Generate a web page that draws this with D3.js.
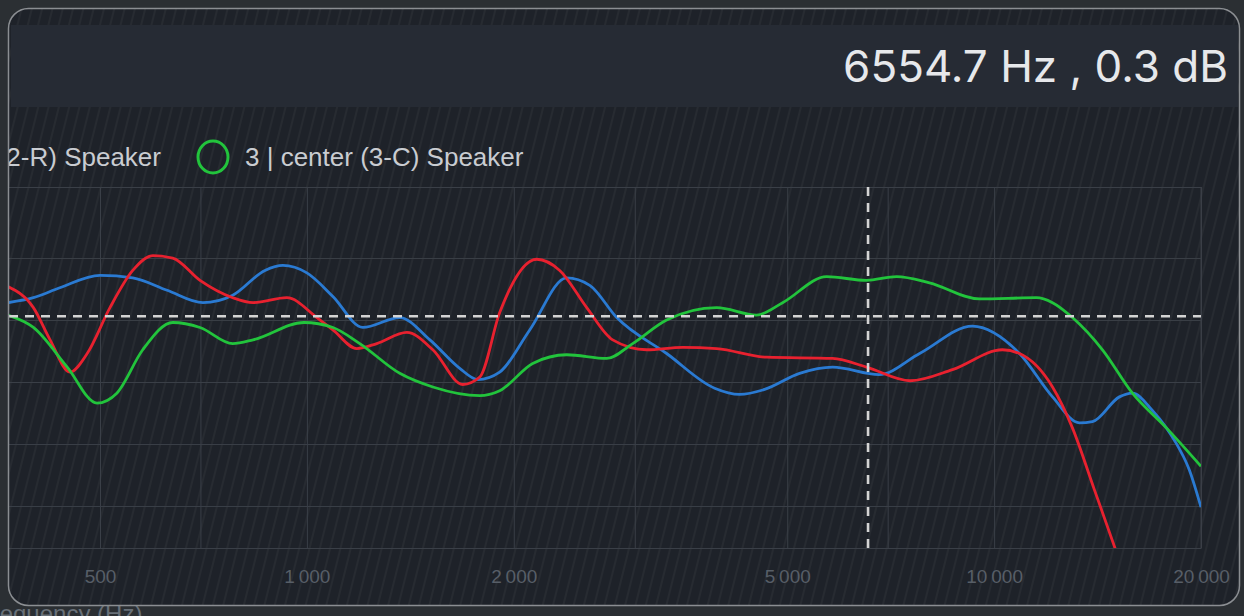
<!DOCTYPE html>
<html>
<head>
<meta charset="utf-8">
<script src="https://cdn.jsdelivr.net/npm/d3@7"></script>
<style>
  html, body { margin: 0; padding: 0; background: #2b2f33; }
  svg { display: block; }
</style>
</head>
<body>
<svg id="chart" width="1244" height="616"></svg>
<script>
// series names / colours
const seriesNames = ["1 | left (1-L) Speaker", "2 | right (2-R) Speaker", "3 | center (3-C) Speaker"];
const seriesColors = ["#e8212f", "#2a7ad2", "#22c43c"];

// frequency grid + labels
const gridFreqs = [500, 700, 1000, 2000, 3000, 5000, 7000, 10000, 20000];
const tickFreqs = [500, 1000, 2000, 5000, 10000, 20000];
const gridDb = [-15, -10, -5, 0, 5];

// crosshair readout
const cursorFreq = 6554.7;
const cursorDb = 0.3;

// series 1 (red)
const redFreq = [367, 400, 423, 452, 479, 517, 558, 597, 638, 699, 780, 835, 935, 1034, 1091, 1182, 1264, 1398, 1525, 1686, 1785, 1908, 2160, 2333, 2554, 2786, 3122, 3522, 3947, 4667, 5821, 6521, 7550, 8698, 10283, 10886, 12161, 13000, 13994, 15016, 15733];
const redDb = [2.7, 1.0, -1.6, -4.2, -2.7, 1.0, 4.0, 5.2, 5.0, 3.2, 1.8, 1.4, 1.8, 0.2, -0.8, -2.3, -1.9, -1.0, -2.4, -5.2, -4.6, 0.6, 4.9, 4.0, 1.0, -1.6, -2.4, -2.2, -2.3, -3.0, -3.1, -3.8, -4.9, -4.0, -2.4, -2.7, -5.4, -8.7, -13.7, -18.5, -21.8];

// series 2 (blue)
const blueFreq = [367, 400, 437, 500, 558, 626, 706, 780, 869, 923, 1000, 1091, 1206, 1365, 1510, 1669, 1773, 1908, 2110, 2388, 2580, 2824, 3338, 3920, 4262, 4635, 5211, 5821, 6800, 7791, 9300, 10886, 12161, 13310, 13901, 15217, 15893, 16994, 17809, 18295, 19235, 20000];
const blueDb = [1.4, 1.8, 2.6, 3.6, 3.4, 2.4, 1.4, 2.0, 4.0, 4.4, 3.8, 1.9, -0.6, 0.2, -1.6, -3.9, -4.8, -4.2, -0.8, 3.4, 2.8, 0.2, -2.7, -5.5, -6.0, -5.6, -4.3, -3.8, -4.4, -2.7, -0.5, -2.7, -6.2, -8.3, -8.2, -6.2, -5.9, -7.3, -8.7, -9.7, -12.1, -15.1];

// series 3 (green)
const greenFreq = [367, 400, 448, 495, 529, 577, 638, 699, 780, 835, 990, 1091, 1194, 1365, 1525, 1785, 1908, 2131, 2388, 2731, 2979, 3338, 3947, 4512, 4923, 5705, 6521, 7211, 8054, 9522, 11525, 12161, 13000, 14377, 15893, 17809, 20000];
const greenDb = [0.4, -0.6, -3.8, -6.7, -5.9, -2.4, -0.2, -0.6, -1.9, -1.6, -0.2, -0.6, -1.9, -4.3, -5.4, -6.1, -5.7, -3.5, -2.8, -3.1, -1.9, 0.0, 1.0, 0.4, 1.4, 3.5, 3.2, 3.5, 3.0, 1.7, 1.8, 1.4, 0.2, -2.4, -5.9, -8.7, -11.8];

const svg = d3.select("#chart");
const W = 1244, H = 616;
const plot = { left: 9, right: 1201, top: 187, bottom: 548 };

// streak texture
const defs = svg.append("defs");
const pat = defs.append("pattern")
  .attr("id", "streaks")
  .attr("patternUnits", "userSpaceOnUse")
  .attr("width", 10).attr("height", 60)
  .attr("patternTransform", "rotate(14)");
pat.append("line")
  .attr("x1", 3).attr("x2", 3).attr("y1", 0).attr("y2", 60)
  .attr("stroke", "#ffffff").attr("stroke-opacity", 0.055).attr("stroke-width", 1.3);

defs.append("clipPath").attr("id", "cardClip")
  .append("rect").attr("x", 8).attr("y", 8).attr("width", 1232).attr("height", 598).attr("rx", 20);
defs.append("clipPath").attr("id", "plotClip")
  .append("rect").attr("x", plot.left).attr("y", plot.top)
  .attr("width", plot.right - plot.left).attr("height", plot.bottom - plot.top);

// card
svg.append("rect")
  .attr("x", 8.5).attr("y", 8.5).attr("width", 1231).attr("height", 597).attr("rx", 20)
  .attr("fill", "#1e2229");

const card = svg.append("g").attr("clip-path", "url(#cardClip)");

card.append("rect").attr("x", 0).attr("y", 0).attr("width", W).attr("height", H)
  .attr("fill", "url(#streaks)");

// header band
card.append("rect")
  .attr("x", 11).attr("y", 25).attr("width", 1227).attr("height", 82)
  .attr("fill", "#262b34");
card.append("text")
  .attr("x", 1228).attr("y", 82)
  .attr("text-anchor", "end")
  .attr("font-family", "Inter, 'Noto Sans', sans-serif")
  .attr("font-size", 44)
  .attr("fill", "#e6e8eb")
  .text(`${cursorFreq} Hz , ${cursorDb} dB`);

// scales
const x = d3.scaleLog().domain([500, 20000]).range([100, plot.right]);
const y = d3.scaleLinear().domain([-18.39, 10.73]).range([plot.bottom, plot.top]);

// grid
const grid = card.append("g");
grid.append("g")
  .attr("transform", `translate(0,${plot.bottom})`)
  .call(d3.axisBottom(x).tickValues(gridFreqs).tickSize(-(plot.bottom - plot.top)).tickFormat(""))
  .call(g => g.select(".domain").remove())
  .call(g => g.selectAll("line").attr("stroke", "#3a3f47").attr("stroke-width", 1));
grid.append("g")
  .attr("transform", `translate(${plot.right},0)`)
  .call(d3.axisLeft(y).tickValues(gridDb).tickSize(plot.right - plot.left).tickFormat(""))
  .call(g => g.select(".domain").remove())
  .call(g => g.selectAll("line").attr("stroke", "#3a3f47").attr("stroke-width", 1));
grid.append("rect")
  .attr("x", plot.left - 20).attr("y", plot.top + 0.5)
  .attr("width", plot.right - plot.left + 20).attr("height", plot.bottom - plot.top)
  .attr("fill", "none").attr("stroke", "#3a3f47");

// tick labels
card.append("g")
  .attr("transform", `translate(0,${plot.bottom})`)
  .call(d3.axisBottom(x).tickValues(tickFreqs).tickSize(0).tickPadding(22)
    .tickFormat(d => d3.format(",")(d).replace(",", "\u2009")))
  .call(g => g.select(".domain").remove())
  .call(g => g.selectAll("text")
    .attr("font-family", "'Liberation Sans', Arial, sans-serif")
    .attr("font-size", 19)
    .attr("fill", "#575e67"));

// axis title (clipped at the bottom edge)
svg.append("text")
  .attr("x", -23).attr("y", 622)
  .attr("font-family", "'Liberation Sans', Arial, sans-serif")
  .attr("font-size", 24)
  .attr("fill", "#687078")
  .text("Frequency (Hz)");

// lines
const line = d3.line()
  .x(d => x(d[0]))
  .y(d => y(d[1]))
  .curve(d3.curveMonotoneX);

const series = [
  { color: seriesColors[1], f: blueFreq, v: blueDb },
  { color: seriesColors[0], f: redFreq, v: redDb },
  { color: seriesColors[2], f: greenFreq, v: greenDb }
];

const lines = card.append("g").attr("clip-path", "url(#plotClip)");
lines.selectAll("path")
  .data(series)
  .join("path")
  .attr("d", s => line(s.f.map((f, i) => [f, s.v[i]])))
  .attr("fill", "none")
  .attr("stroke", s => s.color)
  .attr("stroke-width", 2.8)
  .attr("stroke-linejoin", "round");

// crosshair
const cross = card.append("g")
  .attr("stroke", "#d4d4d4")
  .attr("stroke-width", 2.6)
  .attr("stroke-dasharray", "9 7");
cross.append("line")
  .attr("x1", plot.left).attr("x2", plot.right)
  .attr("y1", y(cursorDb)).attr("y2", y(cursorDb));
cross.append("line")
  .attr("x1", x(cursorFreq)).attr("x2", x(cursorFreq))
  .attr("y1", plot.top).attr("y2", plot.bottom);

// legend (scrolled, first item off to the left)
const legend = card.append("g")
  .attr("font-family", "'Liberation Sans', Arial, sans-serif")
  .attr("font-size", 26)
  .attr("fill", "#c9ccd1");
const legendY = 157;
legend.append("text")
  .attr("x", 245).attr("y", legendY).attr("dy", "0.35em")
  .text(seriesNames[2]);
legend.append("ellipse")
  .attr("cx", 213).attr("cy", legendY).attr("rx", 15).attr("ry", 16)
  .attr("fill", "none").attr("stroke", seriesColors[2]).attr("stroke-width", 3);
// items before it, laid out right to left
let rightEdge = 161;
[1, 0].forEach(i => {
  const t = legend.append("text")
    .attr("x", rightEdge).attr("y", legendY).attr("dy", "0.35em")
    .attr("text-anchor", "end")
    .text(seriesNames[i]);
  const w = t.node().getComputedTextLength();
  legend.append("ellipse")
    .attr("cx", rightEdge - w - 32).attr("cy", legendY).attr("rx", 15).attr("ry", 16)
    .attr("fill", "none").attr("stroke", seriesColors[i]).attr("stroke-width", 3);
  rightEdge = rightEdge - w - 84;
});

// card border on top
svg.append("rect")
  .attr("x", 8.5).attr("y", 8.5).attr("width", 1231).attr("height", 597).attr("rx", 20)
  .attr("fill", "none").attr("stroke", "#8b8e92").attr("stroke-width", 1.5);
</script>
</body>
</html>
